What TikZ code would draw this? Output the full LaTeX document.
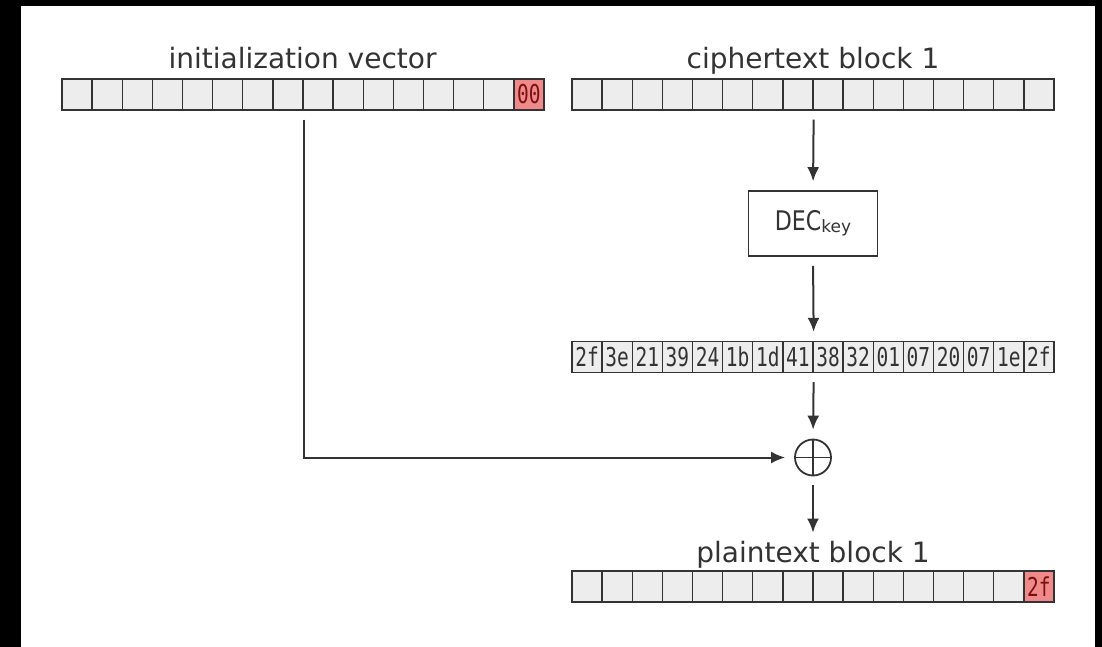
\documentclass[tikz,border=0pt]{standalone}
\usepackage{fontspec}
\usepackage{graphicx}
\setmainfont{DejaVu Sans}
\newfontfamily\monofont{DejaVu Sans Mono}
\usetikzlibrary{arrows.meta}
\definecolor{ink}{HTML}{333333}
\definecolor{cellfill}{HTML}{EDEDED}
\definecolor{hotfill}{HTML}{F08A8A}
\definecolor{hottext}{HTML}{7A1010}
\newcommand\bytefont{\monofont\fontsize{26}{26}\selectfont}
\newcommand\bytetxt[1]{\scalebox{0.75}[1]{#1}}
\begin{document}
\begin{tikzpicture}[x=1pt,y=-1pt,
  cell/.style={draw=ink, fill=cellfill, line width=1.4pt, minimum width=30.125pt,
    minimum height=31pt, inner sep=0pt, font=\bytefont, text=ink},
  hot/.style={fill=hotfill, text=hottext},
  rowtitle/.style={font=\fontsize{28}{28}\selectfont, text=ink, anchor=base, inner sep=0pt},
  conn/.style={draw=ink, line width=2pt, -{Latex[length=14pt,width=12pt]},
    shorten <=9pt, shorten >=9pt},
  decbox/.style={draw=ink, line width=1.6pt, minimum width=129pt, minimum height=65pt,
    inner sep=0pt, text=ink},
  xorsym/.style={circle, draw=ink, line width=1.8pt, minimum size=36pt, inner sep=0pt,
    path picture={\draw[ink, line width=1.8pt]
      (path picture bounding box.north) -- (path picture bounding box.south)
      (path picture bounding box.west) -- (path picture bounding box.east);}}
]
\useasboundingbox (0,0) rectangle (1102,646);
\clip (0,0) rectangle (1102,646);
\fill[black] (-5,-5) rectangle (1107,651);
\fill[white] (21,6) rectangle (1095,660);

% titles
\node[rowtitle] (ivl) at (302.5,68) {initialization vector};
\node[rowtitle] (ctl) at (813,68) {ciphertext block 1};
\node[rowtitle] (ptl) at (813,562) {plaintext block 1};

% initialization vector row
\foreach \i in {0,...,14}
  \node[cell] (iv\i) at ({62+15.0625+\i*30.125},94.5) {};
\node[cell, hot] (iv15) at ({62+15.0625+15*30.125},94.5) {\bytetxt{00}};

% ciphertext row
\foreach \i in {0,...,15}
  \node[cell] (ct\i) at ({572+15.0625+\i*30.125},94.5) {};

% decrypted bytes row
\foreach \t [count=\j from 0] in {2f,3e,21,39,24,1b,1d,41,38,32,01,07,20,07,1e,2f}
  \node[cell] (by\j) at ({572+15.0625+\j*30.125},357) {\bytetxt{\t}};

% plaintext row
\foreach \i in {0,...,14}
  \node[cell] (pt\i) at ({572+15.0625+\i*30.125},586.5) {};
\node[cell, hot] (pt15) at ({572+15.0625+15*30.125},586.5) {\bytetxt{2f}};

% decryption box and xor
\node[decbox] (dec) at (813,223.5)
  {\scalebox{0.82}[1]{\fontsize{27}{27}\selectfont DEC}\raisebox{-2pt}{\fontsize{17}{17}\selectfont key}};
\node[xorsym] (xor) at (813,457.5) {};

% connectors
\draw[conn] (ct7.south east) -- (dec.north);
\draw[conn] (dec.south) -- (by7.north east);
\draw[conn] (by7.south east) -- (xor.north);
\draw[conn, shorten >=8pt] (xor.south) -- (ptl.north);
\draw[conn] (iv7.south east) |- (xor.west);
\end{tikzpicture}
\end{document}
